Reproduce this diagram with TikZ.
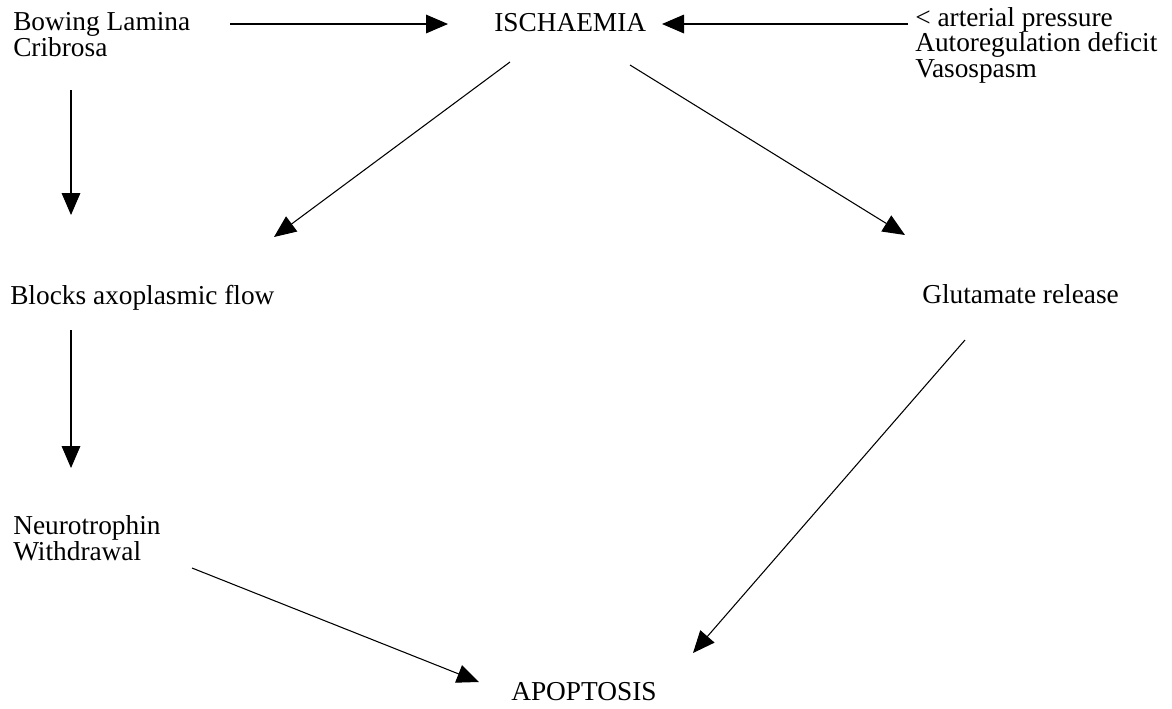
\documentclass[tikz,border=0pt]{standalone}
\usepackage{fontspec}
\setmainfont{Liberation Serif}
\usetikzlibrary{arrows.meta,calc}

\begin{document}
\begin{tikzpicture}[x=0.75pt, y=-0.75pt,
    factor/.style={inner sep=0pt, anchor=base west, align=left, font=\fontsize{20.5}{19}\selectfont},
    leads/.style={-{Triangle[length=16.5pt,width=14pt]}, line width=0.8pt}]
  \useasboundingbox (0,0) rectangle (1172,708);

  % top row
  \node[factor] (bowing) at (13,56) {Bowing Lamina\\Cribrosa};
  \node[factor] (ischaemia) at (494,31) {ISCHAEMIA};
  \node[factor] (vascular) at (915,77) {< arterial pressure\\Autoregulation deficit\\Vasospasm};

  % middle row
  \node[factor] (axoplasm) at (10,304) {Blocks axoplasmic flow};
  \node[factor] (glutamate) at (922,303) {Glutamate release};

  % bottom
  \node[factor] (neurotrophin) at (13,560) {Neurotrophin\\Withdrawal};
  \node[factor] (apoptosis) at (511,700) {APOPTOSIS};

  \draw[leads] ($(bowing.base west)+(217,-32)$) -- ($(ischaemia.base west)+(-46,-7)$);
  \draw[leads] ($(vascular.base west)+(-7,-53)$) -- ($(ischaemia.base west)+(168,-7)$);
  \draw[leads] ($(bowing.base west)+(58,34)$) -- ($(axoplasm.base west)+(61,-89)$);
  \draw[leads] ($(ischaemia.base west)+(16,31)$) -- ($(axoplasm.base west)+(264,-67)$);
  \draw[leads] ($(ischaemia.base west)+(136,34)$) -- ($(glutamate.base west)+(-17,-68)$);
  \draw[leads] ($(axoplasm.base west)+(61,26)$) -- ($(neurotrophin.base west)+(58,-92)$);
  \draw[leads] ($(neurotrophin.base west)+(179,8)$) -- ($(apoptosis.base west)+(-32,-18)$);
  \draw[leads] ($(glutamate.base west)+(43,37)$) -- ($(apoptosis.base west)+(182,-47)$);
\end{tikzpicture}
\end{document}
